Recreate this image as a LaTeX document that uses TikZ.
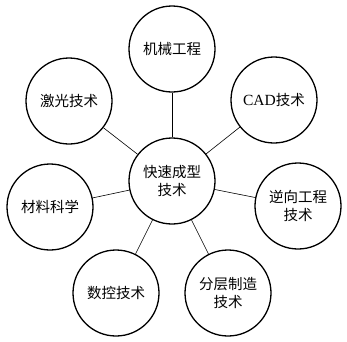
\documentclass[tikz,border=0pt]{standalone}
\usepackage{fontspec}
\setmainfont{Liberation Serif}
\newfontfamily\cjk{Noto Sans CJK SC}
\begin{document}
\begin{tikzpicture}[x=1pt,y=-1pt,
  bub/.style={circle,draw,line width=1.3pt,minimum size=86pt,inner sep=0pt,align=center,font=\cjk\fontsize{14.5}{17.5}\selectfont},
  link/.style={line width=0.6pt}]
\useasboundingbox (0,0) rectangle (347,341);
\node[bub] (c) at (172,181) {快速成型\\技术};
\node[bub] (t) at (172,49) {机械工程};
\node[bub] (l) at (69,101) {激光技术};
\node[bub] (r) at (274,100) {{\rmfamily\fontsize{15.5}{17.5}\selectfont CAD}技术};
\node[bub] (ml) at (50,207) {材料科学};
\node[bub] (mr) at (298,206) {逆向工程\\技术};
\node[bub] (bl) at (116,293) {数控技术};
\node[bub] (br) at (228,293) {分层制造\\技术};
\foreach \n in {t,l,r,ml,mr,bl,br} \draw[link] (c) -- (\n);
\end{tikzpicture}
\end{document}
